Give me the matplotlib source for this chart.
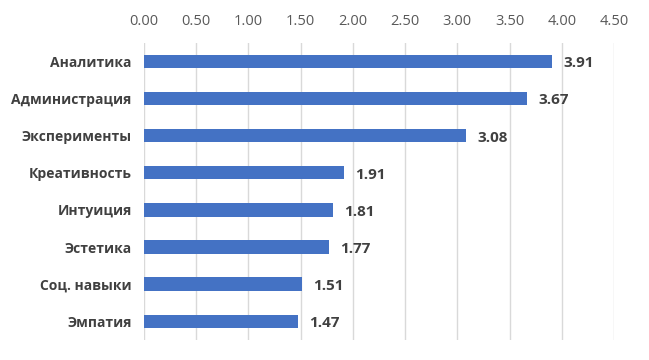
import matplotlib
matplotlib.use("Agg")
import matplotlib.pyplot as plt

categories = ["Аналитика", "Администрация", "Эксперименты", "Креативность",
              "Интуиция", "Эстетика", "Соц. навыки", "Эмпатия"]
values = [3.91, 3.67, 3.08, 1.91, 1.81, 1.77, 1.51, 1.47]
xticks = [0.0, 0.5, 1.0, 1.5, 2.0, 2.5, 3.0, 3.5, 4.0, 4.5]

plt.rcParams['font.family'] = ['Open Sans', 'DejaVu Sans']

fig = plt.figure(figsize=(6.49, 3.6), dpi=100)
ax = fig.add_axes([0.222, 0.056, 0.724, 0.825])

y = list(range(len(categories)))
ax.barh(y, values, height=0.36, color="#4472C4", zorder=3)
for yi, v in zip(y, values):
    ax.text(v + 0.11, yi + 0.05, f"{v:.2f}", va="center", ha="left", fontsize=11,
            fontweight="bold", color="#404040")

ax.set_xlim(0, 4.5)
ax.set_ylim(len(categories) - 0.5, -0.5)
ax.set_yticks(y)
ax.set_yticklabels(categories, fontsize=10, fontweight="bold", color="#404040")
ax.set_xticks(xticks)
ax.set_xticklabels([f"{t:.2f}" for t in xticks], fontsize=10.5, color="#595959")
ax.xaxis.tick_top()
ax.tick_params(axis="both", length=0)
ax.tick_params(axis="x", pad=10)
ax.tick_params(axis="y", pad=9)
ax.grid(axis="x", color="#d9d9d9", linewidth=1, zorder=0)
for s in ax.spines.values():
    s.set_visible(False)

fig.savefig("out.png", dpi=100)
